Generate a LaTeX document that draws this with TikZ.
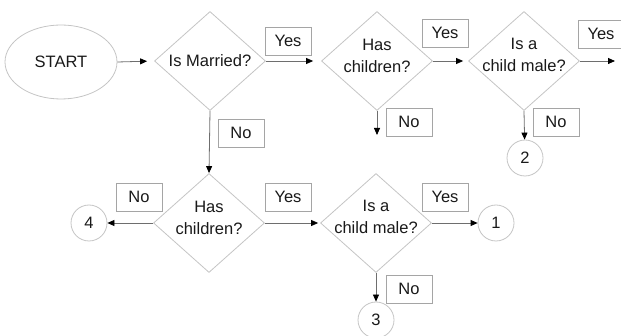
\documentclass[tikz,border=0pt]{standalone}
\usepackage{fontspec}
\setmainfont{Liberation Sans}
\usetikzlibrary{shapes.geometric,arrows.meta}
\definecolor{outline}{RGB}{196, 196, 196}
\definecolor{boxline}{RGB}{165, 165, 165}
\definecolor{flowline}{RGB}{110, 110, 110}

\begin{document}
\begin{tikzpicture}[x=1pt, y=-1pt, line width=0.8pt,
    every node/.style={font=\fontsize{16.5}{22}\selectfont, text=black!90},
    terminal/.style={ellipse, draw=outline, minimum width=112pt, minimum height=74pt},
    decision/.style={diamond, draw=outline, minimum width=111pt, minimum height=99pt, inner sep=0pt},
    qtext/.style={align=center, inner sep=0pt},
    answer/.style={draw=boxline, minimum width=46pt, minimum height=28pt, inner sep=0pt},
    connector/.style={circle, draw=outline, minimum size=36pt, inner sep=0pt},
    flow/.style={draw=flowline, -{Triangle[length=7pt, width=6pt, color=black]}}]
            \useasboundingbox (0,0) rectangle (621,336);
            % Start
            \node[terminal]                                              (start)  at ( 61, 62) {START};
            % Top row of questions
            \node[decision, label={[qtext]center:Is Married?}]           (married) at (210, 61) {};
            \node[decision, label={[qtext, yshift=5pt]center:Has\\children?}]   (kids)  at (377, 61) {};
            \node[decision, label={[qtext, yshift=6pt]center:Is a\\child male?}] (male)  at (524, 61) {};
            % Bottom row of questions
            \node[decision, label={[qtext, yshift=5pt]center:Has\\children?}]   (kidsb) at (209, 223) {};
            \node[decision, label={[qtext, yshift=6pt]center:Is a\\child male?}] (maleb) at (376, 223) {};
            % Answers
            \node[answer] (yesa) at (288,  41) {Yes};
            \node[answer] (yesb) at (445,  33) {Yes};
            \node[answer] (yesc) at (601,  34) {Yes};
            \node[answer] (noa)  at (241, 133) {No};
            \node[answer] (nob)  at (409, 122) {No};
            \node[answer] (noc)  at (556, 122) {No};
            \node[answer] (nod)  at (139, 197) {No};
            \node[answer] (yesd) at (288, 197) {Yes};
            \node[answer] (yese) at (445, 197) {Yes};
            \node[answer] (noe)  at (409, 289) {No};
            % Ends
            \node[connector] (one)   at (496, 223) {1};
            \node[connector] (two)   at (525, 158) {2};
            \node[connector] (three) at (376, 320) {3};
            \node[connector] (four)  at ( 89, 223) {4};
            \coordinate (kidsend) at (377, 135);
            \coordinate (maleend) at (615,  61);
            % Flow
            \draw[flow, shorten >=7pt] (start.east)   -- (married.west);
            \draw[flow, shorten >=8pt] (married.east) -- (kids.west);
            \draw[flow, shorten >=5pt] (kids.east)    -- (male.west);
            \draw[flow]                (male.east)    -- (maleend);
            \draw[flow]                (kids.south)   -- (kidsend);
            \draw[flow]                (male.south)   -- (two);
            \draw[flow]                (married.south) -- (kidsb.north);
            \draw[flow]                (kidsb.west)   -- (four);
            \draw[flow, shorten >=2pt] (kidsb.east)   -- (maleb.west);
            \draw[flow]                (maleb.east)   -- (one);
            \draw[flow]                (maleb.south)  -- (three);
        \end{tikzpicture}
\end{document}
